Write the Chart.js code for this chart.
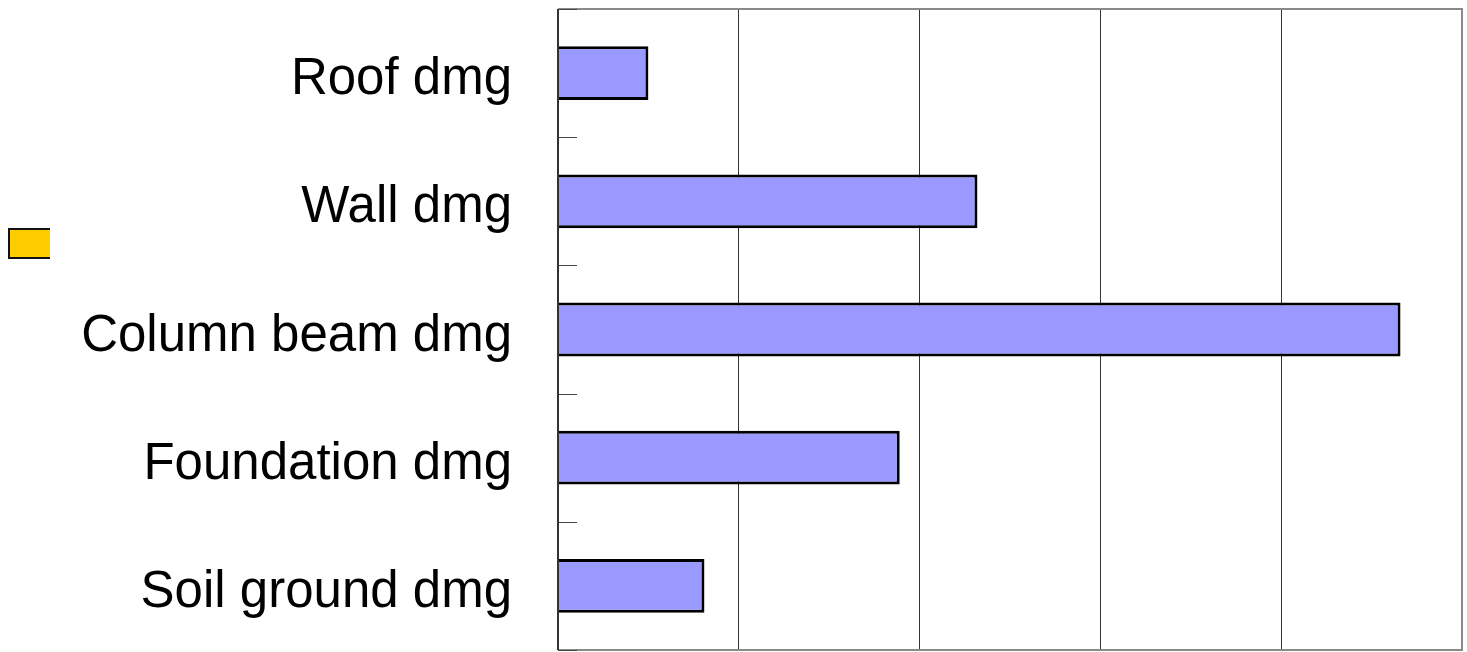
<!DOCTYPE html>
<html>
<head>
<meta charset="utf-8">
<script src="https://cdn.jsdelivr.net/npm/chart.js@4/dist/chart.umd.min.js"></script>
<style>
html,body{margin:0;padding:0;background:#fff;}
#wrap{position:relative;width:1467px;height:652px;}
</style>
</head>
<body>
<div id="wrap"><canvas id="c" width="1467" height="652"></canvas></div>
<script>
const categories = ["Roof dmg", "Wall dmg", "Column beam dmg", "Foundation dmg", "Soil ground dmg"];
const damageValues = [0.5, 2.32, 4.66, 1.89, 0.81];
const axisMin = 0;
const axisMax = 5;
const axisStep = 1;
const legendColor = "#FFCC00";
const barColor = "#9999FF";

const framePlugin = {
  id: 'frame',
  afterDatasetsDraw(chart) {
    const ctx = chart.ctx;
    const a = chart.chartArea;
    const y = chart.scales.y;
    ctx.save();
    ctx.strokeStyle = '#8a8a8a';
    ctx.lineWidth = 2;
    ctx.beginPath();
    ctx.moveTo(a.left, a.top); ctx.lineTo(a.right, a.top);
    ctx.lineTo(a.right, a.bottom); ctx.lineTo(a.left, a.bottom);
    ctx.stroke();
    ctx.strokeStyle = '#333';
    ctx.beginPath();
    ctx.moveTo(a.left, a.top); ctx.lineTo(a.left, a.bottom);
    ctx.stroke();
    ctx.strokeStyle = '#444';
    ctx.lineWidth = 1;
    for (let i = 0; i <= categories.length; i++) {
      const py = Math.round(y.getPixelForValue(i - 0.5)) + 0.5;
      ctx.beginPath();
      ctx.moveTo(a.left, py); ctx.lineTo(a.left + 19, py);
      ctx.stroke();
    }
    ctx.fillStyle = legendColor;
    ctx.fillRect(9, 229, 41, 29);
    ctx.strokeStyle = '#111';
    ctx.lineWidth = 2;
    ctx.beginPath();
    ctx.moveTo(50, 229); ctx.lineTo(9, 229); ctx.lineTo(9, 258); ctx.lineTo(50, 258);
    ctx.stroke();
    ctx.restore();
  }
};

new Chart(document.getElementById('c'), {
  type: 'bar',
  data: {
    labels: categories,
    datasets: [{
      data: damageValues,
      backgroundColor: barColor,
      borderColor: '#000',
      borderWidth: 3,
      borderSkipped: 'start',
      categoryPercentage: 1.0,
      barPercentage: 0.42
    }]
  },
  options: {
    indexAxis: 'y',
    responsive: false,
    animation: false,
    devicePixelRatio: 1,
    layout: { padding: { top: 9, right: 5, bottom: 2, left: 0 } },
    plugins: { legend: { display: false }, tooltip: { enabled: false } },
    scales: {
      x: {
        min: axisMin, max: axisMax,
        ticks: { display: false, stepSize: axisStep },
        grid: { color: '#333', lineWidth: 1, drawTicks: false },
        border: { display: false },
        afterFit(scale) { scale.height = 0; scale.paddingLeft = 0; scale.paddingRight = 0; }
      },
      y: {
        grid: { display: false, drawTicks: false },
        border: { display: false },
        ticks: {
          color: '#000',
          padding: 46,
          autoSkip: false,
          font: { family: '"Liberation Sans", Arial, sans-serif', size: 51, lineHeight: '14px' },
          callback(value) { return ['', categories[value]]; }
        },
        afterFit(scale) { scale.width = 558; scale.paddingTop = 0; scale.paddingBottom = 0; }
      }
    }
  },
  plugins: [framePlugin]
});
</script>
</body>
</html>
